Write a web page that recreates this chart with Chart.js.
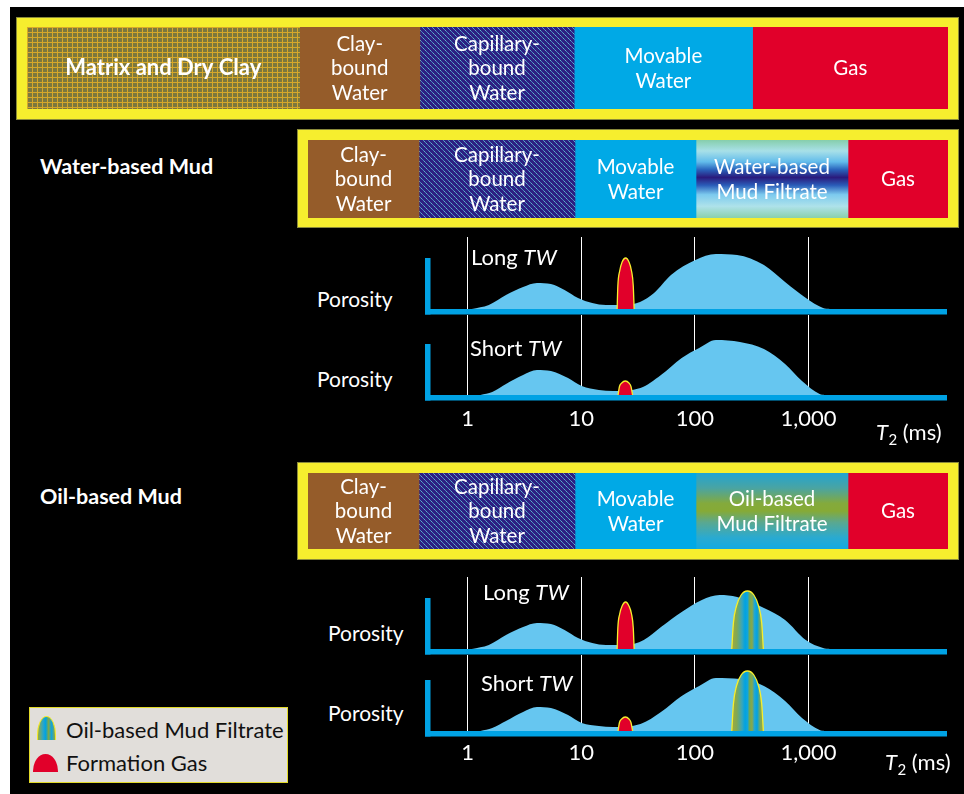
<!DOCTYPE html>
<html><head><meta charset="utf-8">
<script src="https://cdn.jsdelivr.net/npm/chart.js@4/dist/chart.umd.min.js"></script>
<style>
html,body{margin:0;padding:0;background:#fff;}
#page{position:relative;width:964px;height:794px;overflow:hidden;background:#fff;font-family:Lato,"Open Sans",sans-serif;}
#bg{position:absolute;left:10px;top:7px;right:0;bottom:0;background:#000;}
.frame{position:absolute;background:#f6ee2e;box-shadow:0 0 0 1px #8a8a3a;}
.box{position:absolute;}
.box canvas{display:block;}
.t{position:absolute;white-space:nowrap;color:#fff;line-height:1;font-size:21px;}
.b{font-weight:bold;font-size:21.5px;}
.tw{font-size:22px;}
.tw i{letter-spacing:0.5px;}
#legend{position:absolute;left:29px;top:707px;width:257px;height:74px;background:#e1deda;border:1px solid #e2da2a;}
#legend .t{color:#111;font-size:22px;}
.ico1{position:absolute;left:7px;top:8px;width:17px;height:23px;border:1.5px solid #f2e62a;border-bottom:none;border-radius:50% 50% 0 0 / 80% 80% 0 0;
 background:linear-gradient(90deg,#9aaa42 0%,#2aa6c8 30%,#00a2e2 45%,#7aa84c 62%,#10a4dc 80%,#8aa848 100%);}
.ico2{position:absolute;left:3px;top:46px;width:25px;height:18px;background:#e1002a;border-radius:13px 13px 0 0 / 18px 18px 0 0;}
sub{font-size:15px;vertical-align:-5px;}
</style></head><body>
<div id="page">
 <div id="bg"></div>

 <div class="frame" style="left:17px;top:18px;width:941px;height:101px;"></div>
 <div class="box" style="left:27px;top:27px;width:921px;height:82px;"><canvas id="barA"></canvas></div>

 <div class="t b" style="left:40px;top:156px;">Water-based Mud</div>
 <div class="frame" style="left:298px;top:130px;width:660px;height:97px;"></div>
 <div class="box" style="left:308px;top:140px;width:640px;height:78px;"><canvas id="barB"></canvas></div>

 <div class="t b" style="left:40px;top:486px;">Oil-based Mud</div>
 <div class="frame" style="left:298px;top:463px;width:660px;height:96px;"></div>
 <div class="box" style="left:308px;top:473px;width:640px;height:76px;"><canvas id="barC"></canvas></div>

 <div class="box" style="left:425px;top:237px;width:522px;height:78px;"><canvas id="c1"></canvas></div>
 <div class="box" style="left:425px;top:315px;width:522px;height:115px;"><canvas id="c2"></canvas></div>
 <div class="box" style="left:425px;top:577px;width:522px;height:78px;"><canvas id="c3"></canvas></div>
 <div class="box" style="left:425px;top:655px;width:522px;height:111px;"><canvas id="c4"></canvas></div>

 <div class="t" style="left:317px;top:288px;">Porosity</div>
 <div class="t" style="left:317px;top:368px;">Porosity</div>
 <div class="t" style="left:328px;top:622px;">Porosity</div>
 <div class="t" style="left:328px;top:702px;">Porosity</div>

 <div class="t tw" style="left:471px;top:246px;">Long <i>TW</i></div>
 <div class="t tw" style="left:470px;top:337px;">Short <i>TW</i></div>
 <div class="t tw" style="left:483px;top:581px;">Long <i>TW</i></div>
 <div class="t tw" style="left:481px;top:672px;">Short <i>TW</i></div>

 <div class="t tw" style="left:876px;top:421px;"><i>T</i><sub>2</sub> (ms)</div>
 <div class="t tw" style="left:885px;top:751px;"><i>T</i><sub>2</sub> (ms)</div>

 <div id="legend">
  <div class="ico1"></div>
  <div class="ico2"></div>
  <div class="t" style="left:36px;top:11px;">Oil-based Mud Filtrate</div>
  <div class="t" style="left:36px;top:44px;">Formation Gas</div>
 </div>
</div>

<script>
// ---------- DATA ----------
// Fluid-volume bars (relative volumes, left to right)
const BAR_A_LABELS = ['Matrix and Dry Clay', 'Clay-\nbound\nWater', 'Capillary-\nbound\nWater', 'Movable\nWater', 'Gas'];
const BAR_A_VALUES = [272, 120, 154, 178, 195];
const BAR_B_LABELS = ['Clay-\nbound\nWater', 'Capillary-\nbound\nWater', 'Movable\nWater', 'Water-based\nMud Filtrate', 'Gas'];
const BAR_B_VALUES = [111, 156, 121, 152, 100];
const BAR_C_LABELS = ['Clay-\nbound\nWater', 'Capillary-\nbound\nWater', 'Movable\nWater', 'Oil-based\nMud Filtrate', 'Gas'];
const BAR_C_VALUES = [111, 156, 121, 152, 100];

// T2 axis
const T2_TICKS = [1, 10, 100, 1000];
const T2_RANGE = [0.4228, 16490];
const AXIS_TOP = 51;

// Water-based mud, long TW
const WBM_LONG_T2 = [1.09, 1.54, 2.18, 3.08, 4.08, 5.42, 7.14, 9.37, 12.5, 16.5, 24.3, 32.9, 43.7, 61.6, 101, 153, 235, 405, 621, 948, 1340, 1540];
const WBM_LONG_POR = [0, 4, 14, 22, 26, 25, 19, 11, 6, 4, 4, 7, 16, 34, 49, 55, 54, 44, 27, 11, 1, 0];
// Water-based mud, short TW
const WBM_SHORT_T2 = [1.30, 1.65, 2.18, 3.08, 4.08, 5.42, 7.66, 10.1, 14.3, 19.0, 33.2, 50.3, 76.5, 109, 153, 249, 405, 621, 875, 1250, 1380];
const WBM_SHORT_POR = [0, 3, 11, 20, 25, 24, 17, 9, 5, 4, 7, 20, 37, 47, 55, 53, 46, 31, 14, 1, 0];
// Oil-based mud, long TW
const OBM_LONG_T2 = [1.09, 1.54, 2.18, 3.08, 4.08, 5.42, 7.14, 9.37, 12.5, 16.5, 24.3, 35.5, 50.3, 76.5, 115, 165, 235, 405, 621, 944, 1340, 1540];
const OBM_LONG_POR = [0, 4, 14, 22, 26, 25, 19, 11, 6, 4, 4, 9, 22, 37, 49, 54, 52, 41, 29, 9, 1, 0];
// Oil-based mud, short TW
const OBM_SHORT_T2 = [1.30, 1.65, 2.18, 3.08, 4.08, 5.42, 7.66, 10.1, 14.3, 19.0, 33.2, 50.3, 76.5, 109, 153, 249, 405, 621, 875, 1250, 1380];
const OBM_SHORT_POR = [0, 3, 10, 19, 24, 23, 16, 8, 5, 4, 7, 19, 35, 45, 53, 52, 45, 30, 13, 1, 0];

// Formation gas peaks
const GAS_LONG_T2 = [20.7, 21.0, 21.8, 22.9, 24.6, 26.3, 27.7, 28.7, 29.2];
const GAS_WBM_LONG_POR = [0, 23, 38, 47, 51, 47, 38, 23, 0];
const GAS_OBM_LONG_POR = [0, 21, 35, 43, 47, 43, 35, 21, 0];
const GAS_SHORT_T2 = [21.1, 21.7, 22.7, 24.4, 26.3, 27.4, 28.3];
const GAS_SHORT_POR = [0, 8.5, 12, 14, 12, 8.5, 0];

// Oil-based mud filtrate peaks
const OBMF_T2 = [211, 218, 232, 255, 290, 330, 363, 387, 400];
const OBMF_LONG_POR = [0, 26, 43, 54, 58, 54, 43, 26, 0];
const OBMF_SHORT_POR = [0, 27, 45, 56, 60, 56, 45, 27, 0];

// ---------- STYLE ----------
const C_YELLOW = '#f6ee2e', C_FILL = '#66c6f0', C_AXIS = '#00a2e4', C_GAS = '#e1002a';
const C_BROWN = '#955c2a', C_MOVABLE = '#00a9e6';
const FONT = 'Lato, "Open Sans", sans-serif';

function pts(xs, ys) { return xs.map((x, i) => ({x: x, y: ys[i]})); }

function matrixPattern() {
  const c = document.createElement('canvas'); c.width = 5; c.height = 5;
  const g = c.getContext('2d');
  g.fillStyle = '#7c783e'; g.fillRect(0, 0, 5, 5);
  g.fillStyle = '#d6a82a'; g.fillRect(0, 0, 5, 1); g.fillRect(0, 0, 1, 5);
  return g.createPattern(c, 'repeat');
}
function capPattern() {
  const c = document.createElement('canvas'); c.width = 5; c.height = 5;
  const g = c.getContext('2d');
  g.fillStyle = '#2d1f82'; g.fillRect(0, 0, 5, 5);
  for (let i = 0; i < 5; i++) {
    g.fillStyle = (i % 2) ? '#5fb4c8' : '#4a86c0'; g.fillRect(i, i, 1, 1);
  }
  return g.createPattern(c, 'repeat');
}
function vGrad(stops) {
  return function (ctx) {
    const ch = ctx.chart, a = ch.chartArea;
    if (!a) return stops[0][1];
    const g = ch.ctx.createLinearGradient(0, a.top, 0, a.bottom);
    stops.forEach(s => g.addColorStop(s[0], s[1]));
    return g;
  };
}
const WBMF_STOPS = [[0, '#86ceac'], [0.14, '#a8e0e8'], [0.28, '#62bceb'], [0.38, '#2a64bc'], [0.48, '#2a1a7c'], [0.58, '#2a5cb8'], [0.7, '#7ccaee'], [0.85, '#aee2ea'], [1, '#8ad0aa']];
const OBMF_STOPS = [[0, '#22a4d2'], [0.2, '#4aa4a2'], [0.4, '#84aa3c'], [0.5, '#86aa36'], [0.65, '#5aa890'], [0.85, '#2aaad0'], [1, '#12aae2']];

const segText = {
  id: 'segText',
  afterDatasetsDraw(chart, args, o) {
    const ctx = chart.ctx;
    chart.data.datasets.forEach((ds, i) => {
      const el = chart.getDatasetMeta(i).data[0];
      const lines = ds.label.split('\n');
      const cx = (el.x + el.base) / 2, cy = el.y;
      ctx.save();
      ctx.fillStyle = '#fff'; ctx.textAlign = 'center'; ctx.textBaseline = 'alphabetic';
      ctx.font = (ds.bold ? 'bold 22px ' : o.size + 'px ') + FONT;
      lines.forEach((ln, k) => {
        ctx.fillText(ln, cx, cy + (k - (lines.length - 1) / 2) * o.lh + o.size * 0.36);
      });
      ctx.restore();
    });
  }
};

function barChart(id, values, labels, fills, boldFirst) {
  return new Chart(document.getElementById(id), {
    type: 'bar',
    data: {labels: [''], datasets: values.map((v, i) => ({
      label: labels[i], data: [v], backgroundColor: fills[i], borderWidth: 0,
      barPercentage: 1, categoryPercentage: 1, bold: boldFirst && i === 0}))},
    options: {
      indexAxis: 'y', responsive: true, maintainAspectRatio: false, animation: false,
      layout: {padding: 0},
      plugins: {legend: {display: false}, tooltip: {enabled: false}, segText: {size: 20.5, lh: 24.5}},
      scales: {
        x: {stacked: true, display: false, min: 0, max: values.reduce((a, b) => a + b, 0)},
        y: {stacked: true, display: false}
      }
    },
    plugins: [segText]
  });
}

const axisL = {
  id: 'axisL',
  afterDatasetsDraw(chart, args, o) {
    const {ctx, chartArea: a, scales: {y}} = chart;
    const y0 = y.getPixelForValue(0), yt = y.getPixelForValue(o.top);
    ctx.save();
    ctx.fillStyle = o.color;
    ctx.fillRect(a.left, yt, 5.5, y0 - yt + 5.5);
    ctx.fillRect(a.left, y0, a.right - a.left, 5.5);
    ctx.restore();
  }
};

function obmGrad(ctx) {
  const ch = ctx.chart, xs = ch.scales.x;
  if (!xs || !ch.chartArea) return '#7aa848';
  const x0 = xs.getPixelForValue(OBMF_T2[0]), x1 = xs.getPixelForValue(OBMF_T2[OBMF_T2.length - 1]);
  const g = ch.ctx.createLinearGradient(x0, 0, x1, 0);
  [[0, '#a0aa40'], [0.15, '#84a850'], [0.32, '#3aa6b8'], [0.42, '#00a2e2'], [0.5, '#10a6dc'], [0.56, '#6aa85a'],
   [0.64, '#8aa848'], [0.72, '#20a6d4'], [0.8, '#00a2e2'], [0.9, '#7aa858'], [1, '#98aa44']].forEach(s => g.addColorStop(s[0], s[1]));
  return g;
}

function distChart(id, main, gas, obmf, yMax, axisH, showTicks, pad) {
  const ds = [];
  ds.push({data: gas, fill: 'origin', backgroundColor: C_GAS, borderColor: C_YELLOW, borderWidth: 1.3,
           pointRadius: 0, cubicInterpolationMode: 'monotone', order: 0, clip: false});
  if (obmf) ds.push({data: obmf, fill: 'origin', backgroundColor: obmGrad, borderColor: C_YELLOW, borderWidth: 1.3,
           pointRadius: 0, cubicInterpolationMode: 'monotone', order: 0, clip: false});
  ds.push({data: main, fill: 'origin', backgroundColor: C_FILL, borderWidth: 0, borderColor: C_FILL,
           pointRadius: 0, cubicInterpolationMode: 'monotone', order: 1, clip: false});
  return new Chart(document.getElementById(id), {
    type: 'line',
    data: {datasets: ds},
    options: {
      responsive: true, maintainAspectRatio: false, animation: false,
      layout: {padding: 0},
      plugins: {legend: {display: false}, tooltip: {enabled: false}, axisL: {top: AXIS_TOP, color: C_AXIS}},
      scales: {
        x: {type: 'logarithmic', min: T2_RANGE[0], max: T2_RANGE[1], display: true,
            afterBuildTicks: s => { s.ticks = T2_TICKS.map(v => ({value: v})); },
            afterFit: s => { s.height = axisH; },
            grid: {color: '#ffffff', lineWidth: 1, drawTicks: false, drawOnChartArea: true},
            border: {display: false},
            ticks: {display: showTicks, color: '#ffffff', padding: pad, maxRotation: 0, autoSkip: false,
                    font: {family: FONT, size: 22},
                    callback: v => Number(v).toLocaleString('en-US')}},
        y: {display: false, min: 0, max: yMax}
      }
    },
    plugins: [axisL]
  });
}

function init() {
  const MP = matrixPattern(), CP = capPattern();
  barChart('barA', BAR_A_VALUES, BAR_A_LABELS, [MP, C_BROWN, CP, C_MOVABLE, C_GAS], true);
  barChart('barB', BAR_B_VALUES, BAR_B_LABELS, [C_BROWN, CP, C_MOVABLE, vGrad(WBMF_STOPS), C_GAS], false);
  barChart('barC', BAR_C_VALUES, BAR_C_LABELS, [C_BROWN, CP, C_MOVABLE, vGrad(OBMF_STOPS), C_GAS], false);

  distChart('c1', pts(WBM_LONG_T2, WBM_LONG_POR), pts(GAS_LONG_T2, GAS_WBM_LONG_POR), null, 72, 6, false, 0);
  distChart('c2', pts(WBM_SHORT_T2, WBM_SHORT_POR), pts(GAS_SHORT_T2, GAS_SHORT_POR), null, 80, 35, true, 11);
  distChart('c3', pts(OBM_LONG_T2, OBM_LONG_POR), pts(GAS_LONG_T2, GAS_OBM_LONG_POR), pts(OBMF_T2, OBMF_LONG_POR), 72, 6, false, 0);
  distChart('c4', pts(OBM_SHORT_T2, OBM_SHORT_POR), pts(GAS_SHORT_T2, GAS_SHORT_POR), pts(OBMF_T2, OBMF_SHORT_POR), 76, 35, true, 9);
}

Promise.all([
  document.fonts.load('20px Lato'), document.fonts.load('bold 22px Lato'), document.fonts.load('italic 22px Lato')
]).then(init, init);
</script>
</body></html>
